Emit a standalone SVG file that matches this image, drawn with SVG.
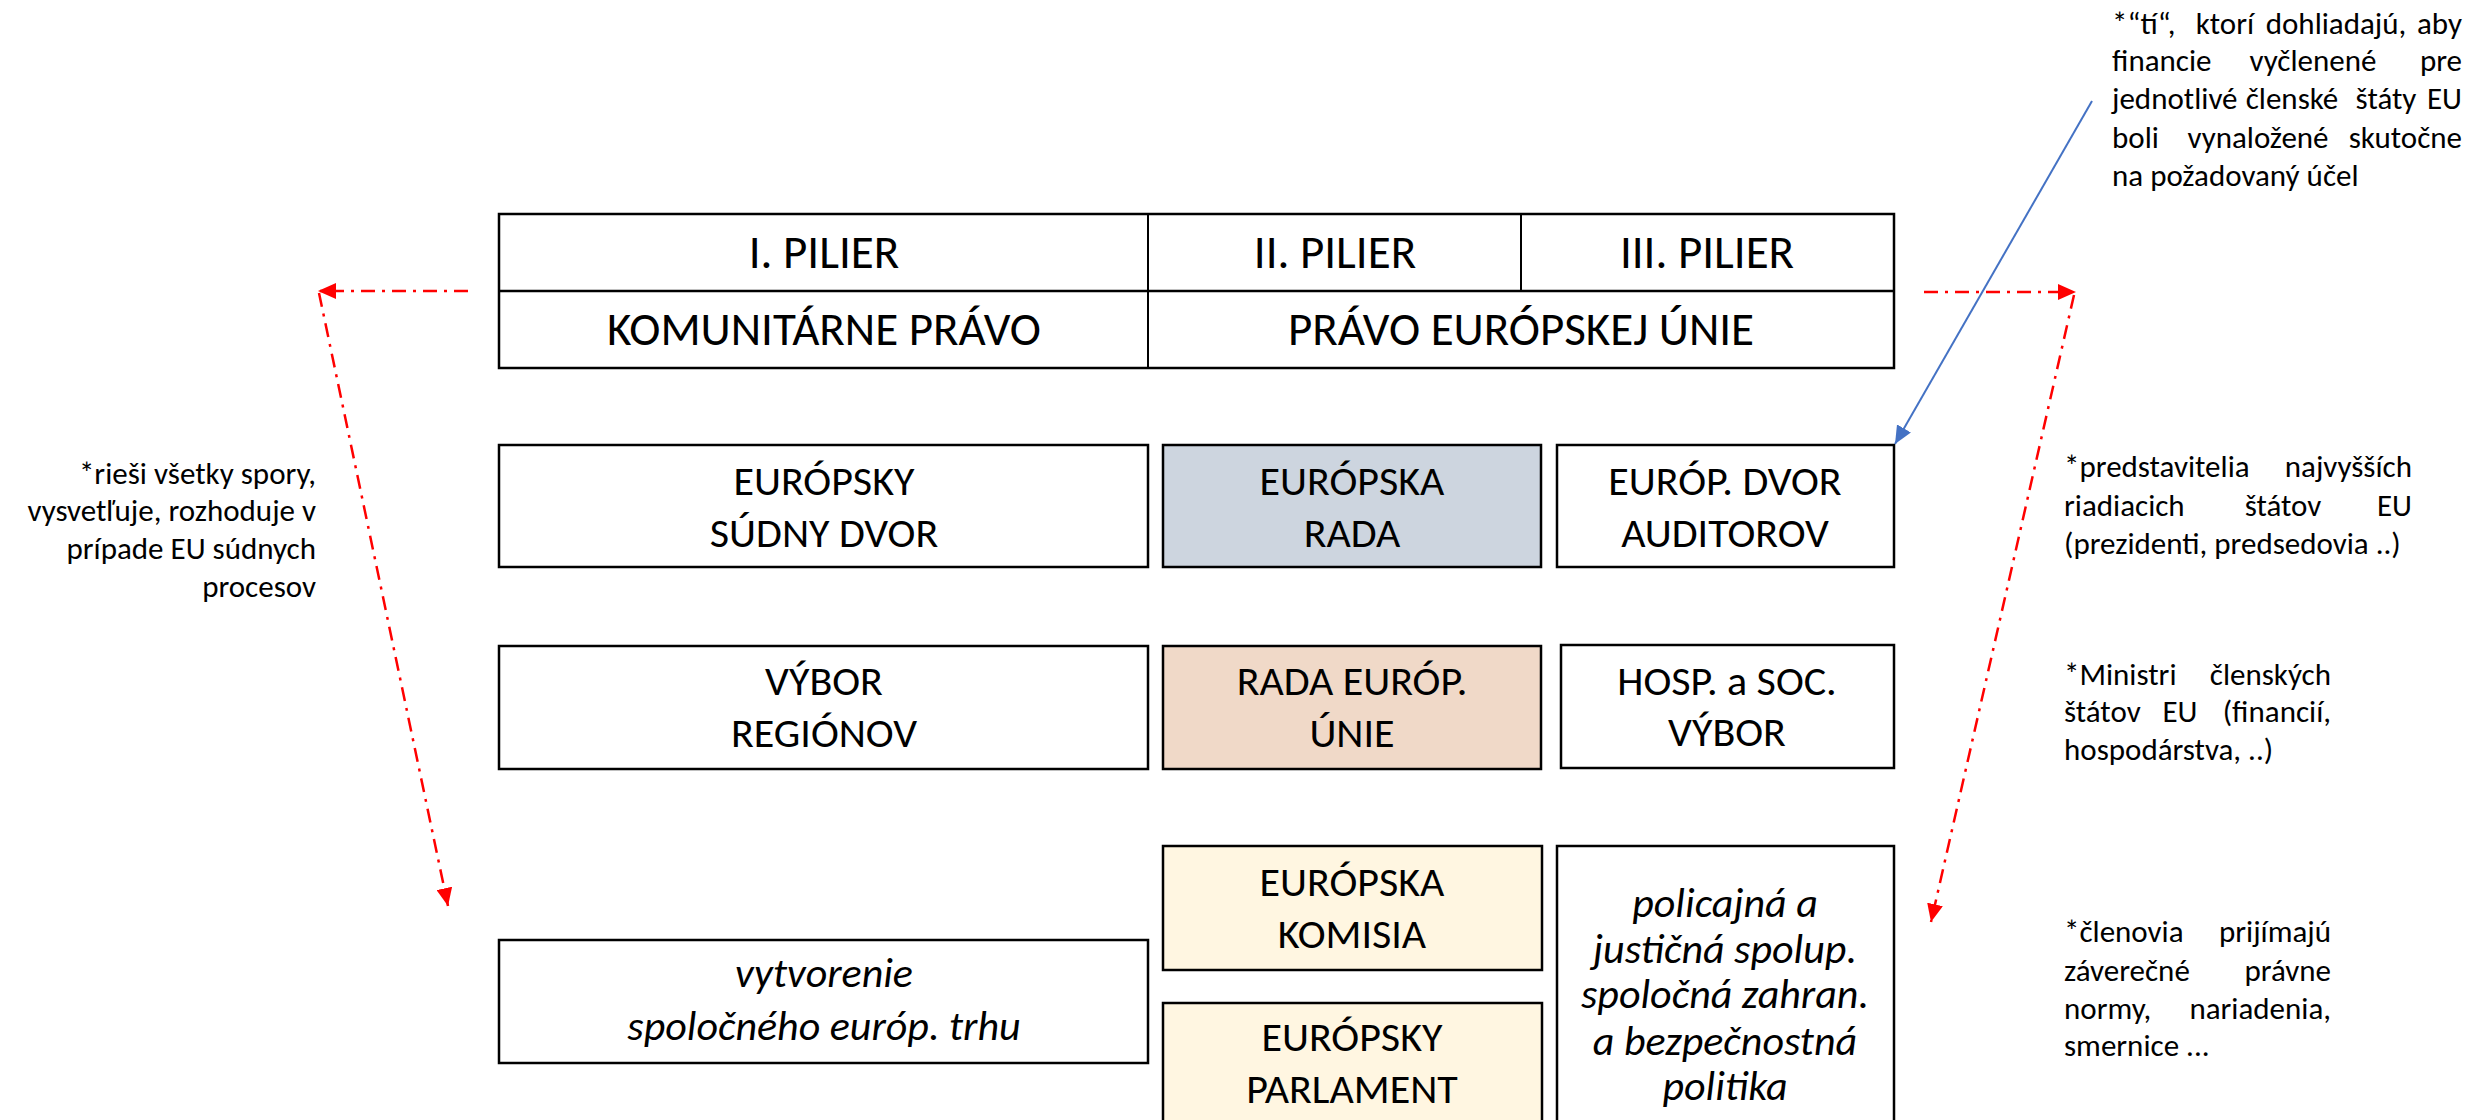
<svg xmlns="http://www.w3.org/2000/svg" width="2478" height="1120" viewBox="0 0 2478 1120">
<style>
.bx{stroke:#000;stroke-width:2.5;fill:#fff}
.t{font-family:Carlito,Lato,"Liberation Sans",sans-serif;fill:#000}
.lb{font-size:42px;text-anchor:middle}
.hd{font-size:47px;text-anchor:middle}
.it{font-style:italic}
.an{font-size:31px}
.e{text-anchor:end}
.m{text-anchor:middle}
.red{stroke:#FF0000;stroke-width:2.5;fill:none;stroke-dasharray:14 7 3 7}
.blue{stroke:#4472C4;stroke-width:2;fill:none}
</style>
<defs>
<marker id="ar" markerUnits="userSpaceOnUse" markerWidth="20" markerHeight="16" refX="18" refY="8" orient="auto"><path d="M0,0 L18,8 L0,16 Z" fill="#FF0000"/></marker>
<marker id="ab" markerUnits="userSpaceOnUse" markerWidth="20" markerHeight="16" refX="18" refY="8" orient="auto"><path d="M0,0 L18,8 L0,16 Z" fill="#4472C4"/></marker>
</defs>
<rect width="2478" height="1120" fill="#fff"/>

<g id="pillars">
<rect class="bx" x="499" y="214" width="1395" height="154"/>
<line x1="499" y1="291" x2="1894" y2="291" stroke="#000" stroke-width="2.5"/>
<line x1="1148" y1="214" x2="1148" y2="368" stroke="#000" stroke-width="2"/>
<line x1="1521" y1="214" x2="1521" y2="291" stroke="#000" stroke-width="2"/>
<text class="t hd" x="824" y="268">I. PILIER</text>
<text class="t hd" x="1335" y="268">II. PILIER</text>
<text class="t hd" x="1707" y="268">III. PILIER</text>
<text class="t hd" x="824" y="345">KOMUNITÁRNE PRÁVO</text>
<text class="t hd" x="1521" y="345">PRÁVO EURÓPSKEJ ÚNIE</text>
</g>

<g id="sudny-dvor">
<rect class="bx" x="499" y="445" width="649" height="122"/>
<text class="t lb" x="824" y="495">EURÓPSKY</text>
<text class="t lb" x="824" y="547">SÚDNY DVOR</text>
</g>
<g id="europska-rada">
<rect class="bx" x="1163" y="445" width="378" height="122" style="fill:#CDD5DF"/>
<text class="t lb" x="1352" y="495">EURÓPSKA</text>
<text class="t lb" x="1352" y="547">RADA</text>
</g>
<g id="dvor-auditorov">
<rect class="bx" x="1557" y="445" width="337" height="122"/>
<text class="t lb" x="1725" y="495">EURÓP. DVOR</text>
<text class="t lb" x="1725" y="547">AUDITOROV</text>
</g>

<g id="vybor-regionov">
<rect class="bx" x="499" y="646" width="649" height="123"/>
<text class="t lb" x="824" y="695">VÝBOR</text>
<text class="t lb" x="824" y="747">REGIÓNOV</text>
</g>
<g id="rada-eu">
<rect class="bx" x="1163" y="646" width="378" height="123" style="fill:#F0D9C8"/>
<text class="t lb" x="1352" y="695">RADA EURÓP.</text>
<text class="t lb" x="1352" y="747">ÚNIE</text>
</g>
<g id="hosp-soc-vybor">
<rect class="bx" x="1561" y="645" width="333" height="123"/>
<text class="t lb" x="1727" y="695">HOSP. a SOC.</text>
<text class="t lb" x="1727" y="746">VÝBOR</text>
</g>

<g id="europska-komisia">
<rect class="bx" x="1163" y="846" width="379" height="124" style="fill:#FFF6E1"/>
<text class="t lb" x="1352" y="896">EURÓPSKA</text>
<text class="t lb" x="1352" y="948">KOMISIA</text>
</g>
<g id="europsky-parlament">
<rect class="bx" x="1163" y="1003" width="379" height="130" style="fill:#FFF6E1"/>
<text class="t lb" x="1352" y="1051">EURÓPSKY</text>
<text class="t lb" x="1352" y="1103">PARLAMENT</text>
</g>
<g id="policajna-spolupraca">
<rect class="bx" x="1557" y="846" width="337" height="290"/>
<text class="t lb it" x="1725" y="917">policajná a</text>
<text class="t lb it" x="1725" y="963">justičná spolup.</text>
<text class="t lb it" x="1725" y="1008">spoločná zahran.</text>
<text class="t lb it" x="1725" y="1055">a bezpečnostná</text>
<text class="t lb it" x="1725" y="1100">politika</text>
</g>
<g id="spolocny-trh">
<rect class="bx" x="499" y="940" width="649" height="123"/>
<text class="t lb it" x="824" y="987">vytvorenie</text>
<text class="t lb it" x="824" y="1040">spoločného európ. trhu</text>
</g>

<g id="connectors">
<line class="red" x1="468" y1="291" x2="318" y2="291" marker-end="url(#ar)"/>
<line class="red" x1="319" y1="293" x2="448" y2="906" marker-end="url(#ar)"/>
<line class="red" x1="1924" y1="292" x2="2076" y2="292" marker-end="url(#ar)"/>
<line class="red" x1="2074" y1="295" x2="1931" y2="922" marker-end="url(#ar)"/>
<line class="blue" x1="2092" y1="101" x2="1895" y2="444" marker-end="url(#ab)"/>
</g>

<g id="note-sudny-dvor">
<text class="t an e" x="316" y="484">*rieši všetky spory,</text>
<text class="t an e" x="316" y="521">vysvetľuje, rozhoduje v</text>
<text class="t an e" x="316" y="559">prípade EU súdnych</text>
<text class="t an e" x="316" y="597">procesov</text>
</g>

<g id="note-auditori">
<text class="t an" x="2112" y="34">*“tí“,</text>
<text class="t an m" x="2225" y="34">ktorí</text>
<text class="t an m" x="2336" y="34">dohliadajú,</text>
<text class="t an e" x="2462" y="34">aby</text>
<text class="t an" x="2112" y="71">financie</text>
<text class="t an m" x="2313" y="71">vyčlenené</text>
<text class="t an e" x="2462" y="71">pre</text>
<text class="t an" x="2112" y="109">jednotlivé</text>
<text class="t an m" x="2292" y="109">členské</text>
<text class="t an m" x="2386" y="109">štáty</text>
<text class="t an e" x="2462" y="109">EU</text>
<text class="t an" x="2112" y="148">boli</text>
<text class="t an m" x="2258" y="148">vynaložené</text>
<text class="t an e" x="2462" y="148">skutočne</text>
<text class="t an" x="2112" y="186">na požadovaný účel</text>
</g>

<g id="note-rada">
<text class="t an" x="2064" y="477">*predstavitelia</text>
<text class="t an e" x="2412" y="477">najvyšších</text>
<text class="t an" x="2064" y="516">riadiacich</text>
<text class="t an m" x="2283" y="516">štátov</text>
<text class="t an e" x="2412" y="516">EU</text>
<text class="t an" x="2064" y="554">(prezidenti, predsedovia ..)</text>
</g>

<g id="note-rada-eu">
<text class="t an" x="2064" y="685">*Ministri</text>
<text class="t an e" x="2331" y="685">členských</text>
<text class="t an" x="2064" y="722">štátov</text>
<text class="t an m" x="2180" y="722">EU</text>
<text class="t an e" x="2331" y="722">(financií,</text>
<text class="t an" x="2064" y="760">hospodárstva, ..)</text>
</g>

<g id="note-parlament">
<text class="t an" x="2064" y="942">*členovia</text>
<text class="t an e" x="2331" y="942">prijímajú</text>
<text class="t an" x="2064" y="981">záverečné</text>
<text class="t an e" x="2331" y="981">právne</text>
<text class="t an" x="2064" y="1019">normy,</text>
<text class="t an e" x="2331" y="1019">nariadenia,</text>
<text class="t an" x="2064" y="1056">smernice ...</text>
</g>
</svg>
